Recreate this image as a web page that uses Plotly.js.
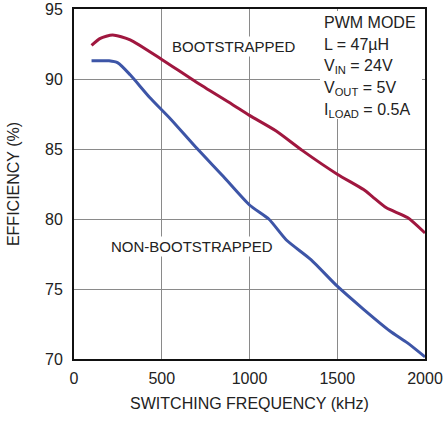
<!DOCTYPE html>
<html>
<head>
<meta charset="utf-8">
<script src="https://cdn.plot.ly/plotly-3.0.1.min.js"></script>
<style>html,body{margin:0;padding:0;background:#fff;}#chart{width:443px;height:421px;}</style>
</head>
<body>
<div id="chart"></div>
<script>
// Switching frequency (kHz) and efficiency (%)
const freqBoot = [100, 150, 220, 320, 500, 700, 900, 1000, 1150, 1300, 1500, 1650, 1700, 1780, 1900, 2000];
const effBoot  = [92.4, 92.9, 93.15, 92.8, 91.4, 89.75, 88.2, 87.4, 86.3, 84.9, 83.2, 82.1, 81.6, 80.8, 80.1, 79.0];
const freqNon  = [100, 200, 250, 320, 430, 550, 700, 850, 1000, 1110, 1210, 1350, 1500, 1650, 1800, 1900, 2000];
const effNon   = [91.3, 91.3, 91.15, 90.3, 88.7, 87.15, 85.05, 83.05, 81.0, 80.0, 78.5, 77.1, 75.2, 73.55, 72.0, 71.15, 70.15];
const xTicks = [0, 500, 1000, 1500, 2000];
const yTicks = [70, 75, 80, 85, 90, 95];
const conditionLines = ["PWM MODE", "L = 47µH", "V<sub>IN</sub> = 24V", "V<sub>OUT</sub> = 5V", "I<sub>LOAD</sub> = 0.5A"];

const FONT = "Liberation Sans, Arial, sans-serif";
const fs = 16;
const TXT = '#222';
const GRID = '#8a8a8a';

const traces = [
  {x: freqBoot, y: effBoot, mode: 'lines', line: {color: '#A0173F', width: 3, shape: 'spline', smoothing: 0.6}, hoverinfo: 'skip'},
  {x: freqNon, y: effNon, mode: 'lines', line: {color: '#3D55A7', width: 3, shape: 'spline', smoothing: 0.6}, hoverinfo: 'skip'}
];

const ann = [];
ann.push({xref: 'x', yref: 'y', x: 1402, y: 94.85, xanchor: 'left', yanchor: 'top', text: ' ', width: 102, height: 108, bgcolor: '#fff', borderpad: 0, borderwidth: 0, showarrow: false});
ann.push({xref: 'x', yref: 'y', x: 914, y: 92.35, text: 'BOOTSTRAPPED', xanchor: 'center', yanchor: 'middle', showarrow: false, bgcolor: '#fff', borderpad: 1, font: {family: FONT, size: 15, color: TXT}});
ann.push({xref: 'x', yref: 'y', x: 674, y: 78.06, text: 'NON-BOOTSTRAPPED', xanchor: 'center', yanchor: 'middle', showarrow: false, bgcolor: '#fff', borderpad: 1, font: {family: FONT, size: 15, color: TXT}});
const lineY = [94.78, 93.23, 91.69, 90.14, 88.6];
conditionLines.forEach((t, i) => {
  ann.push({xref: 'x', yref: 'y', x: 1415, y: lineY[i], text: t, xanchor: 'left', yanchor: 'top', showarrow: false, borderpad: 1, font: {family: FONT, size: fs, color: TXT}});
});

const layout = {
  width: 443, height: 421,
  margin: {l: 74, r: 18, t: 9, b: 62},
  paper_bgcolor: '#fff', plot_bgcolor: '#fff',
  showlegend: false,
  font: {family: FONT, size: fs, color: TXT},
  xaxis: {
    range: [xTicks[0], xTicks[xTicks.length - 1]], tickvals: xTicks, ticktext: xTicks.map(String),
    showgrid: true, gridcolor: GRID, gridwidth: 1, zeroline: false,
    showline: true, mirror: true, linecolor: '#111', linewidth: 2,
    ticks: '', ticklabeloverflow: 'allow', ticklabelstandoff: 4,
    tickfont: {family: FONT, size: fs, color: TXT},
    title: {text: 'SWITCHING FREQUENCY (kHz)', font: {family: FONT, size: fs, color: TXT}, standoff: 12}
  },
  yaxis: {
    range: [yTicks[0], yTicks[yTicks.length - 1]], tickvals: yTicks, ticktext: yTicks.map(String),
    showgrid: true, gridcolor: GRID, gridwidth: 1, zeroline: false,
    showline: true, mirror: true, linecolor: '#111', linewidth: 2,
    ticks: '', ticklabeloverflow: 'allow', ticklabelstandoff: 6,
    tickfont: {family: FONT, size: fs, color: TXT},
    title: {text: 'EFFICIENCY (%)', font: {family: FONT, size: fs, color: TXT}, standoff: 21}
  },
  annotations: ann
};

Plotly.newPlot('chart', traces, layout, {displayModeBar: false}).then(function(gd){
  // force a style/layout pass after drawing
  gd.querySelectorAll('path').forEach(p => { getComputedStyle(p).stroke; p.getBoundingClientRect(); });
});
</script>
</body>
</html>
